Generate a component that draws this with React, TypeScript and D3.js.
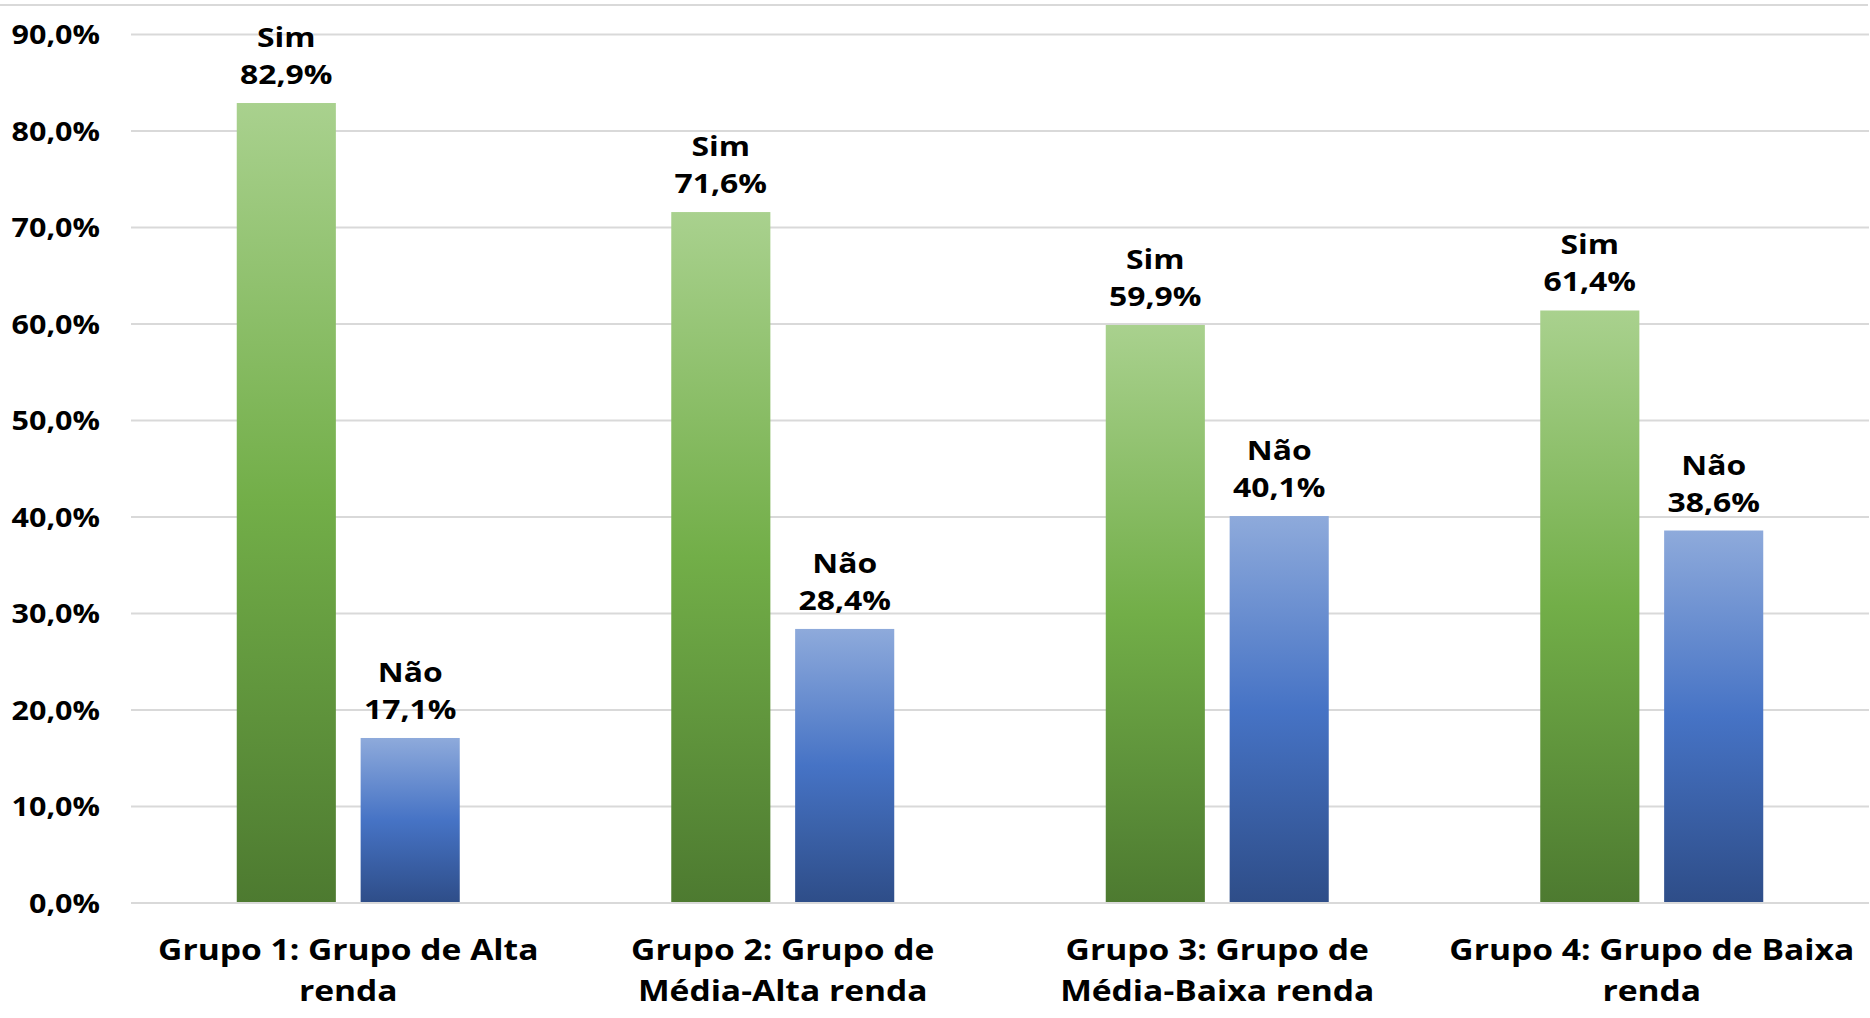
import React from "react";
import * as d3 from "d3";

// values
const groups = [
  ["Grupo 1: Grupo de Alta", "renda"],
  ["Grupo 2: Grupo de", "Média-Alta renda"],
  ["Grupo 3: Grupo de", "Média-Baixa renda"],
  ["Grupo 4: Grupo de Baixa", "renda"],
];
const series = ["Sim", "Não"];
const simValues = [82.9, 71.6, 59.9, 61.4];
const naoValues = [17.1, 28.4, 40.1, 38.6];
const yTicks = [0, 10, 20, 30, 40, 50, 60, 70, 80, 90];

const W = 1870;
const H = 1018;
const FONT = "'Open Sans', 'DejaVu Sans', sans-serif";

const fmt = (v: number) => v.toFixed(1).replace(".", ",") + "%";

// the original text is a bit wider than Open Sans, so stretch it horizontally
function Label(props: {
  x: number;
  y: number;
  sx: number;
  size: number;
  anchor: "start" | "middle" | "end";
  dy?: string;
  children: React.ReactNode;
}) {
  return (
    <text
      transform={`translate(${props.x},${props.y}) scale(${props.sx},1)`}
      dy={props.dy}
      textAnchor={props.anchor}
      fontSize={props.size}
      fontWeight="bold"
      fill="#000"
    >
      {props.children}
    </text>
  );
}

export default function App() {
  const x0 = d3.scaleBand<number>()
    .domain(groups.map((_, i) => i))
    .range([131, 1869])
    .padding(0);
  const bw = x0.bandwidth();
  const x1 = d3.scaleBand<string>()
    .domain(series)
    .range([bw * 0.2434, bw * 0.7566])
    .paddingInner(0.2)
    .paddingOuter(0);
  const y = d3.scaleLinear().domain([0, 90]).range([903, 34.5]);

  const valuesFor = (s: string) => (s === "Sim" ? simValues : naoValues);

  return (
    <svg
      width={W}
      height={H}
      style={{ position: "absolute", left: 0, top: 0, background: "#fff" }}
      fontFamily={FONT}
    >
      <defs>
        <linearGradient id="gradSim" x1="0" y1="0" x2="0" y2="1">
          <stop offset="0%" stopColor="#a9d18e" />
          <stop offset="50%" stopColor="#72ae48" />
          <stop offset="100%" stopColor="#4d7a30" />
        </linearGradient>
        <linearGradient id="gradNao" x1="0" y1="0" x2="0" y2="1">
          <stop offset="0%" stopColor="#8eaadb" />
          <stop offset="50%" stopColor="#4673c5" />
          <stop offset="100%" stopColor="#2e4d88" />
        </linearGradient>
      </defs>

      {/* chart border top */}
      <line x1={0} x2={1868} y1={5} y2={5} stroke="#d9d9d9" strokeWidth={2} />

      {/* gridlines + y labels */}
      {yTicks.map((t) => (
        <g key={t}>
          <line
            x1={131}
            x2={1869}
            y1={y(t)}
            y2={y(t)}
            stroke="#d9d9d9"
            strokeWidth={2}
          />
          <Label x={100} y={y(t)} dy="0.36em" sx={1.13} size={27} anchor="end">
            {fmt(t)}
          </Label>
        </g>
      ))}

      {/* bars */}
      {groups.map((_, gi) =>
        series.map((s) => {
          const v = valuesFor(s)[gi];
          const bx = (x0(gi) as number) + (x1(s) as number);
          const cx = bx + x1.bandwidth() / 2;
          return (
            <g key={gi + s}>
              <rect
                x={bx}
                y={y(v)}
                width={x1.bandwidth()}
                height={y(0) - y(v)}
                fill={s === "Sim" ? "url(#gradSim)" : "url(#gradNao)"}
              />
              <Label x={cx} y={y(v) - 56} sx={1.18} size={27} anchor="middle">
                {s}
              </Label>
              <Label x={cx} y={y(v) - 19} sx={1.18} size={27} anchor="middle">
                {fmt(v)}
              </Label>
            </g>
          );
        })
      )}

      {/* x axis line */}
      <line x1={131} x2={1869} y1={y(0)} y2={y(0)} stroke="#d9d9d9" strokeWidth={2} />

      {/* category labels */}
      {groups.map((lines, gi) =>
        lines.map((l, li) => (
          <Label
            key={gi + "-" + li}
            x={(x0(gi) as number) + bw / 2}
            y={960 + li * 41}
            sx={1.2}
            size={28}
            anchor="middle"
          >
            {l}
          </Label>
        ))
      )}
    </svg>
  );
}
